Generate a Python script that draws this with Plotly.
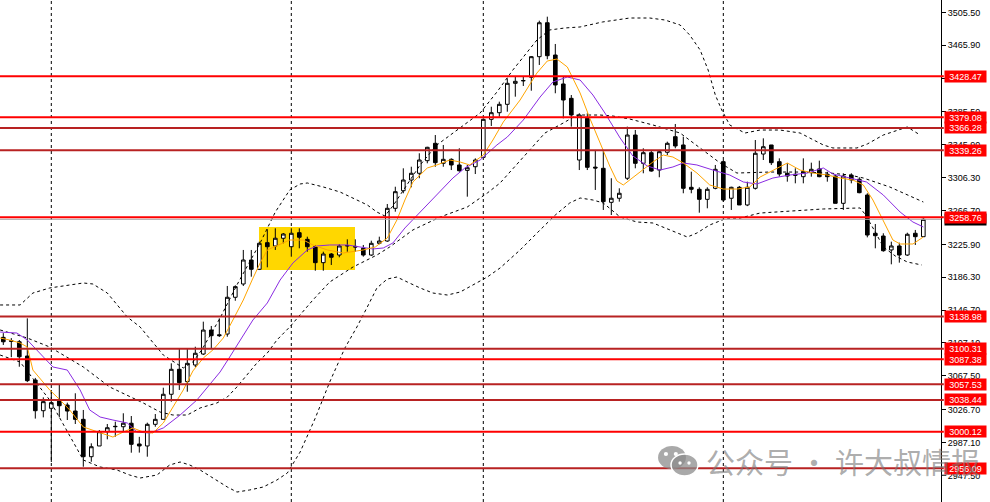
import plotly.graph_objects as go

# ---------------- candle data ----------------
open_ = [3113.9, 3109.8, 3108.6, 3091.4, 3062.5, 3025.5, 3028.4, 3037.6, 3032.4, 3025.1,
         3015.1, 2970.1, 2983.0, 3000.2, 3006.2, 3006.2, 3010.4, 2985.4, 2983.0, 3009.1,
         3015.1, 3045.3, 3075.4, 3060.5, 3080.6, 3093.8, 3122.7, 3117.0, 3117.9, 3162.2,
         3178.2, 3207.1, 3195.9, 3228.0, 3224.0, 3233.3, 3223.1, 3240.0, 3232.0, 3223.1,
         3203.9, 3214.3, 3213.1, 3224.0, 3223.5, 3221.2, 3213.1, 3227.2, 3230.0, 3269.4,
         3290.6, 3303.5, 3311.6, 3326.8, 3347.7, 3323.6, 3328.4, 3321.6, 3315.1, 3319.5,
         3330.8, 3376.6, 3384.6, 3394.7, 3420.0, 3423.0, 3427.3, 3452.1, 3493.0, 3454.1,
         3419.2, 3401.9, 3327.6, 3377.8, 3319.0, 3317.6, 3276.6, 3281.5, 3305.6, 3357.7,
         3323.6, 3336.4, 3315.5, 3336.9, 3355.7, 3345.7, 3294.7, 3292.3, 3280.2, 3293.5,
         3325.6, 3281.5, 3294.7, 3273.4, 3293.5, 3334.8, 3345.7, 3325.6, 3311.6, 3310.4,
         3307.5, 3312.3, 3316.8, 3310.4, 3308.3, 3275.4, 3309.5, 3304.4, 3285.4, 3239.3,
         3236.0, 3219.2, 3224.0, 3213.1, 3239.3, 3235.2]
high = [3119.0, 3113.0, 3110.7, 3136.8, 3065.0, 3041.6, 3050.5, 3056.5, 3035.2, 3046.5,
        3026.4, 2986.2, 3002.2, 3009.5, 3012.3, 3022.4, 3019.1, 2994.0, 3011.1, 3021.5,
        3053.2, 3082.6, 3100.7, 3100.7, 3102.6, 3132.8, 3127.6, 3136.8, 3175.8, 3176.6,
        3219.2, 3219.2, 3229.2, 3244.1, 3245.3, 3239.6, 3245.3, 3245.3, 3235.2, 3225.2,
        3217.1, 3215.5, 3226.0, 3232.0, 3232.0, 3225.2, 3230.4, 3235.2, 3274.6, 3295.4,
        3317.6, 3319.5, 3335.7, 3343.5, 3357.7, 3345.7, 3329.6, 3341.7, 3321.6, 3329.6,
        3377.8, 3391.8, 3397.9, 3426.0, 3428.8, 3428.8, 3452.9, 3495.5, 3500.3, 3467.4,
        3428.0, 3405.9, 3383.9, 3383.9, 3339.7, 3338.8, 3305.6, 3293.5, 3367.8, 3363.8,
        3341.7, 3339.7, 3339.7, 3349.7, 3371.0, 3355.7, 3313.5, 3294.7, 3294.7, 3321.6,
        3327.6, 3295.4, 3296.3, 3301.5, 3351.7, 3353.7, 3345.7, 3329.6, 3323.6, 3317.6,
        3329.6, 3324.4, 3326.8, 3313.5, 3309.5, 3311.6, 3311.6, 3306.8, 3287.5, 3250.5,
        3239.3, 3229.2, 3228.0, 3240.0, 3243.3, 3257.4]
low = [3104.7, 3090.0, 3078.5, 3060.0, 3016.0, 3017.5, 2963.7, 3017.5, 3014.3, 3009.5,
       2958.0, 2964.0, 2983.0, 2991.0, 2994.2, 3000.2, 2974.9, 2975.0, 2970.1, 3006.2,
       3015.1, 3036.4, 3050.5, 3048.4, 3078.0, 3092.6, 3100.7, 3114.3, 3114.7, 3158.0,
       3175.8, 3187.0, 3195.0, 3198.3, 3219.2, 3227.2, 3211.1, 3221.2, 3217.1, 3194.2,
       3194.2, 3201.1, 3210.4, 3217.1, 3217.0, 3211.1, 3212.0, 3226.0, 3229.0, 3265.3,
       3287.5, 3294.7, 3305.6, 3323.6, 3319.5, 3319.5, 3315.5, 3313.5, 3283.4, 3310.7,
       3330.0, 3368.6, 3379.8, 3385.8, 3403.9, 3416.8, 3411.1, 3442.1, 3449.0, 3408.0,
       3377.8, 3367.8, 3315.5, 3315.5, 3291.5, 3267.4, 3261.3, 3277.4, 3303.5, 3317.6,
       3311.6, 3313.5, 3306.8, 3333.6, 3341.7, 3287.5, 3287.5, 3264.1, 3269.4, 3292.3,
       3277.4, 3267.4, 3273.4, 3272.0, 3292.0, 3327.6, 3321.6, 3307.5, 3301.5, 3299.5,
       3299.5, 3307.5, 3306.8, 3301.5, 3275.4, 3267.4, 3299.5, 3287.5, 3234.4, 3221.2,
       3217.1, 3201.9, 3203.9, 3212.0, 3225.2, 3235.0]
close = [3108.6, 3109.2, 3090.5, 3061.7, 3025.5, 3036.4, 3035.2, 3031.5, 3025.1, 3015.1,
         2970.1, 2982.1, 3000.2, 3005.0, 3006.6, 3010.4, 2985.0, 2983.0, 3009.1, 3015.1,
         3045.3, 3075.4, 3059.3, 3082.6, 3094.7, 3122.7, 3115.9, 3116.0, 3162.2, 3175.0,
         3207.1, 3195.9, 3227.2, 3223.1, 3233.3, 3238.4, 3239.3, 3234.5, 3223.1, 3203.9,
         3214.3, 3210.4, 3224.0, 3224.5, 3222.8, 3213.1, 3227.2, 3230.0, 3269.4, 3289.4,
         3303.5, 3311.6, 3327.6, 3342.9, 3324.4, 3328.4, 3321.6, 3314.7, 3318.3, 3327.6,
         3376.6, 3384.6, 3394.7, 3420.0, 3422.4, 3423.3, 3452.1, 3493.0, 3453.3, 3418.0,
         3399.9, 3381.8, 3381.8, 3318.8, 3318.0, 3277.4, 3281.5, 3287.5, 3357.7, 3323.6,
         3336.4, 3314.3, 3337.6, 3347.7, 3344.5, 3293.5, 3292.3, 3280.2, 3292.3, 3316.4,
         3279.4, 3294.7, 3273.4, 3294.7, 3335.7, 3343.6, 3324.4, 3310.7, 3308.3, 3309.3,
         3313.5, 3316.4, 3307.5, 3307.5, 3275.4, 3308.3, 3303.5, 3288.2, 3237.2, 3236.4,
         3218.3, 3224.0, 3213.1, 3238.1, 3235.2, 3256.1]
bar_index = list(range(len(open_)))

# ---------------- indicator lines ----------------
fast_x = [-0.4, 0.8, 2.1, 3.0, 3.7, 5.8, 7.1, 8.3, 10.0, 12.1, 13.7, 15.0, 16.2, 17.5, 18.7,
          20.0, 21.2, 22.5, 23.7, 25.0, 26.2, 27.5, 28.7, 30.0, 31.1, 32.1, 33.0, 34.2, 35.8,
          37.5, 38.7, 40.5, 42.5, 45.0, 46.5, 48.0, 49.2, 50.2, 51.2, 53.0, 54.2, 55.8, 57.1,
          58.3, 60.0, 61.2, 62.5, 64.6, 66.7, 68.0, 69.2, 70.5, 72.1, 73.3, 74.6, 75.8, 76.7,
          77.5, 78.3, 79.6, 81.2, 82.5, 83.7, 85.0, 86.7, 88.3, 90.0, 91.7, 93.3, 94.6, 96.2,
          98.0, 99.6, 101.2, 103.0, 104.6, 106.2, 107.5, 108.7, 110.0, 111.2, 112.1, 113.7, 115.0]
fast_y = [3113.1, 3110.7, 3107.1, 3102.3, 3074.5, 3050.5, 3038.4, 3026.4, 3005.9, 2998.6,
          2993.8, 2999.8, 3004.7, 2999.8, 2998.6, 3010.7, 3030.0, 3050.5, 3073.4, 3089.0,
          3098.7, 3113.1, 3134.8, 3158.9, 3183.0, 3203.5, 3219.2, 3224.0, 3231.2, 3231.2,
          3225.2, 3219.2, 3215.5, 3219.2, 3222.8, 3233.6, 3255.3, 3279.4, 3301.1, 3318.0,
          3321.6, 3327.6, 3325.2, 3321.6, 3333.6, 3351.7, 3373.4, 3399.9, 3432.4, 3446.9,
          3449.3, 3439.7, 3408.3, 3378.2, 3348.1, 3320.4, 3302.3, 3297.5, 3303.5, 3313.1,
          3325.2, 3333.6, 3331.2, 3324.0, 3311.9, 3297.5, 3292.6, 3292.6, 3295.1, 3307.1,
          3315.5, 3324.0, 3315.5, 3311.9, 3309.5, 3305.9, 3303.5, 3297.5, 3279.4, 3255.3,
          3231.2, 3226.4, 3226.4, 3234.8]

slow_x = [-0.4, 1.7, 3.0, 4.6, 6.2, 8.0, 9.6, 10.8, 12.1, 13.7, 15.5, 16.7, 18.3, 20.0, 22.1,
          24.2, 25.8, 27.1, 28.3, 29.6, 31.2, 33.0, 34.6, 36.2, 38.0, 39.2, 40.8, 43.0, 44.6,
          46.2, 47.5, 48.7, 50.2, 52.1, 54.2, 56.2, 57.7, 59.6, 61.7, 63.0, 65.0, 67.1, 68.7,
          70.5, 72.1, 73.7, 75.2, 77.1, 78.7, 80.5, 82.1, 83.7, 85.0, 86.7, 88.7, 90.8, 92.5,
          94.2, 96.2, 98.3, 100.5, 102.5, 103.7, 105.8, 107.9, 110.0, 112.1, 113.7, 115.0]
slow_y = [3120.3, 3119.1, 3110.7, 3095.0, 3078.2, 3074.5, 3050.5, 3026.4, 3017.9, 3014.3,
          3010.7, 2999.8, 2998.6, 3004.7, 3020.3, 3038.4, 3056.5, 3072.2, 3090.2, 3110.7,
          3134.8, 3155.3, 3183.0, 3203.5, 3219.2, 3224.0, 3225.2, 3225.2, 3222.8, 3220.4,
          3221.6, 3227.6, 3245.7, 3264.9, 3285.4, 3305.9, 3318.0, 3327.6, 3345.7, 3355.3,
          3375.8, 3403.5, 3421.6, 3427.6, 3424.0, 3405.9, 3384.2, 3354.1, 3332.4, 3320.4,
          3315.5, 3319.2, 3324.0, 3321.6, 3315.5, 3309.5, 3301.1, 3298.7, 3305.9, 3309.5,
          3311.9, 3318.0, 3310.7, 3305.9, 3301.1, 3285.4, 3264.9, 3252.9, 3246.9]

upper_x = [-0.4, 2.1, 3.7, 5.8, 10.0, 11.2, 13.0, 14.2, 15.5, 17.1, 18.7, 20.0, 22.5, 23.7,
           24.8, 27.1, 29.2, 32.1, 34.0, 35.8, 37.1, 38.0, 40.0, 42.1, 44.2, 45.5, 46.7, 47.7,
           48.7, 49.6, 52.1, 54.2, 56.2, 59.6, 61.7, 63.7, 65.5, 66.7, 68.3, 70.2, 72.1, 74.9,
           78.3, 80.8, 82.7, 84.6, 85.8, 87.1, 88.1, 89.0, 89.8, 90.8, 92.7, 94.6, 97.1, 99.6,
           102.5, 103.7, 106.7, 108.0, 110.0, 113.0, 114.6]
upper_y = [3152.9, 3152.9, 3167.3, 3173.4, 3179.4, 3178.2, 3167.3, 3152.9, 3138.4, 3126.4,
           3108.3, 3092.6, 3077.0, 3084.2, 3098.7, 3137.2, 3177.0, 3227.6, 3264.9, 3291.4,
           3298.7, 3299.9, 3295.1, 3289.0, 3279.4, 3273.4, 3264.9, 3260.1, 3272.2, 3285.4,
           3321.6, 3345.7, 3360.1, 3384.2, 3409.5, 3436.1, 3457.7, 3472.2, 3484.3, 3486.7,
           3487.9, 3493.9, 3498.7, 3498.7, 3496.3, 3490.3, 3478.2, 3460.2, 3436.1, 3405.9,
           3387.9, 3369.8, 3360.1, 3363.7, 3363.7, 3360.1, 3345.7, 3342.1, 3342.1, 3346.9,
           3357.7, 3367.4, 3357.7]

mid_x = [-0.4, 3.0, 5.8, 10.0, 13.3, 16.2, 17.5, 19.6, 21.2, 23.0, 24.6, 26.7, 28.0, 29.2,
         30.5, 31.7, 33.0, 34.2, 35.8, 38.7, 40.8, 43.7, 46.7, 48.3, 51.2, 54.6, 58.0, 60.5,
         62.1, 65.0, 67.7, 70.0, 71.7, 74.6, 76.2, 78.3, 81.2, 84.6, 87.5, 89.6, 91.7, 95.8,
         99.6, 103.3, 105.8, 107.5, 110.8, 115.0]
mid_y = [3122.8, 3113.1, 3102.3, 3078.2, 3054.1, 3040.8, 3034.8, 3023.9, 3020.3, 3020.3,
         3028.8, 3034.8, 3042.0, 3054.1, 3068.5, 3083.0, 3095.0, 3110.7, 3126.4, 3158.9,
         3180.6, 3198.6, 3213.1, 3222.8, 3243.3, 3258.9, 3271.0, 3287.8, 3299.9, 3331.2,
         3360.1, 3372.2, 3381.8, 3381.8, 3380.6, 3377.0, 3369.8, 3360.1, 3339.7, 3324.0,
         3311.9, 3313.1, 3313.1, 3311.9, 3309.5, 3305.9, 3295.1, 3277.0]

lower_x = [-0.4, 2.1, 5.8, 10.0, 12.1, 14.2, 15.8, 17.1, 19.2, 20.8, 22.1, 23.3, 24.6, 26.2,
           28.0, 29.2, 30.8, 32.5, 34.2, 35.5, 37.1, 39.0, 40.8, 42.7, 44.2, 45.5, 46.7, 48.0,
           49.2, 50.5, 52.1, 53.7, 55.5, 57.1, 58.7, 60.5, 62.1, 64.6, 67.1, 69.0, 70.8, 72.1,
           73.7, 75.0, 77.1, 79.2, 81.2, 83.3, 85.5, 86.7, 88.3, 90.5, 92.1, 94.6, 96.7, 99.6,
           102.5, 107.1, 107.7, 109.0, 110.0, 111.5, 113.0, 114.8]
lower_y = [3092.6, 3084.2, 3038.4, 2966.1, 2957.7, 2954.1, 2948.0, 2944.4, 2948.0, 2960.1,
           2963.7, 2960.1, 2954.1, 2944.4, 2933.6, 2927.5, 2930.0, 2933.6, 2942.0, 2950.4,
           2975.7, 3016.7, 3060.1, 3101.1, 3126.4, 3150.5, 3173.4, 3184.2, 3186.6, 3180.6,
           3173.4, 3167.3, 3164.9, 3168.5, 3177.0, 3186.6, 3197.5, 3219.2, 3243.3, 3261.3,
           3275.8, 3281.8, 3279.4, 3275.8, 3258.9, 3252.9, 3251.7, 3243.3, 3234.8, 3239.6,
           3249.3, 3257.7, 3257.7, 3263.7, 3264.9, 3267.4, 3268.6, 3269.8, 3262.5, 3240.8,
           3222.8, 3211.9, 3204.7, 3201.1]

# ---------------- levels, ticks, objects ----------------
levels = [3428.47, 3379.08, 3366.28, 3339.26, 3258.76, 3138.98, 3100.31, 3087.38,
          3057.53, 3038.44, 3000.12, 2956.09]
level_dark = [False, False, True, True, False, True, True, False, True, True, False, True]
tick_vals = [3505.50, 3465.90, 3426.30, 3385.50, 3345.90, 3306.30, 3266.70, 3225.90,
             3186.30, 3146.70, 3107.10, 3067.50, 3026.70, 2987.10, 2947.50]
separators = [6, 36, 60, 90]
zone_x = [31.96, 43.96]
zone_y = [3195.1, 3246.9]
bid_price = 3256.10
watermark = "公众号 · 许大叔情报"

X_RANGE = [-0.4125, 117.21]
Y_RANGE = [2915.5, 3520.4]

fig = go.Figure()

fig.add_trace(go.Candlestick(
    x=bar_index, open=open_, high=high, low=low, close=close,
    increasing=dict(line=dict(color="black", width=1), fillcolor="white"),
    decreasing=dict(line=dict(color="black", width=1), fillcolor="black"),
    whiskerwidth=0, showlegend=False, hoverinfo="skip"))

band_style = dict(color="black", width=1, dash="3px,3px")
for bx, by in [(upper_x, upper_y), (mid_x, mid_y), (lower_x, lower_y)]:
    fig.add_trace(go.Scatter(x=bx, y=by, mode="lines", line=band_style,
                             showlegend=False, hoverinfo="skip"))

fig.add_trace(go.Scatter(x=slow_x, y=slow_y, mode="lines",
                         line=dict(color="#8A2BE2", width=1), showlegend=False, hoverinfo="skip"))
fig.add_trace(go.Scatter(x=fast_x, y=fast_y, mode="lines",
                         line=dict(color="#FFA500", width=1), showlegend=False, hoverinfo="skip"))

shapes = []
shapes.append(dict(type="rect", layer="below", xref="x", yref="y",
                   x0=zone_x[0], x1=zone_x[1], y0=zone_y[0], y1=zone_y[1],
                   fillcolor="#FFD700", line=dict(width=0)))
for s in separators:
    shapes.append(dict(type="line", layer="below", xref="x", yref="paper",
                       x0=s, x1=s, y0=0, y1=1,
                       line=dict(color="black", width=1, dash="3px,3px")))
shapes.append(dict(type="line", layer="above", xref="paper", yref="y",
                   x0=0, x1=1, y0=bid_price, y1=bid_price,
                   line=dict(color="#A9A9A9", width=1)))
for lv, dk in zip(levels, level_dark):
    shapes.append(dict(type="line", layer="above", xref="paper", yref="y",
                       x0=0, x1=1.003, y0=lv, y1=lv,
                       line=dict(color="#B82222" if dk else "#FF0000", width=2)))

# WeChat-style icon for the watermark
icon_col = "rgba(140,140,140,0.75)"
shapes.append(dict(type="circle", xref="paper", yref="paper", layer="above",
                   x0=0.6993, x1=0.7290, y0=0.0657, y1=0.1116,
                   fillcolor=icon_col, line=dict(width=0)))
shapes.append(dict(type="circle", xref="paper", yref="paper", layer="above",
                   x0=0.7131, x1=0.7418, y0=0.0518, y1=0.0956,
                   fillcolor=icon_col, line=dict(color="white", width=1.5)))
for ex, ey, r in [(0.7077, 0.0956, 0.0022), (0.7182, 0.0956, 0.0022),
                  (0.7227, 0.0777, 0.0018), (0.7322, 0.0777, 0.0018)]:
    shapes.append(dict(type="circle", xref="paper", yref="paper", layer="above",
                       x0=ex - r, x1=ex + r, y0=ey - r * 1.9, y1=ey + r * 1.9,
                       fillcolor="white", line=dict(width=0)))

annotations = []
annotations.append(dict(xref="paper", yref="y", x=1.0032, y=bid_price, xanchor="left",
                        yanchor="middle", text="%.2f" % bid_price, showarrow=False,
                        bgcolor="black", font=dict(color="white", size=9, family="Liberation Sans"),
                        width=41, height=11, borderpad=0))
for lv in levels:
    annotations.append(dict(xref="paper", yref="y", x=1.0032, y=lv, xanchor="left",
                            yanchor="middle", text="%.2f" % lv, showarrow=False,
                            bgcolor="#FF0000", font=dict(color="white", size=9, family="Liberation Sans"),
                            width=41, height=11, borderpad=0))
annotations.append(dict(xref="paper", yref="paper", x=0.748, y=0.0817, xanchor="left",
                        yanchor="middle", text=watermark, showarrow=False,
                        font=dict(color="rgba(120,120,120,0.62)", size=29,
                                  family="Noto Sans CJK SC")))

fig.update_layout(
    width=990, height=502,
    margin=dict(l=0, r=49, t=0, b=0, autoexpand=False),
    paper_bgcolor="white", plot_bgcolor="white",
    boxgap=0.35,
    shapes=shapes, annotations=annotations,
    xaxis=dict(range=X_RANGE, rangeslider=dict(visible=False), showgrid=False,
               showticklabels=False, ticks="", zeroline=False, showline=False, fixedrange=True),
    yaxis=dict(range=Y_RANGE, side="right", tickvals=tick_vals,
               ticktext=["%.2f" % t for t in tick_vals], ticks="outside", ticklen=4,
               tickcolor="black", showline=True, linecolor="black", linewidth=1,
               showgrid=False, zeroline=False, fixedrange=True,
               tickfont=dict(size=9, color="black", family="Liberation Sans")),
    font=dict(family="Liberation Sans"),
)

fig.write_html("out.html", config={"displayModeBar": False, "staticPlot": True},
               post_script="document.body.style.margin='0';document.body.style.overflow='hidden';")
